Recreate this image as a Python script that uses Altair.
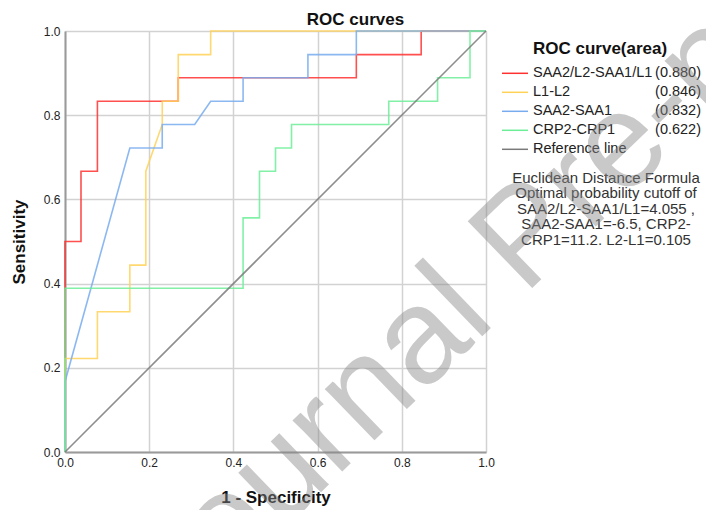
import altair as alt
import pandas as pd

FONT = "Liberation Sans"

# ---- data ----
series_names = ["SAA2/L2-SAA1/L1", "L1-L2", "SAA2-SAA1", "CRP2-CRP1", "Reference line"]
auc_labels = ["(0.880)", "(0.846)", "(0.832)", "(0.622)", ""]
colors = ["#ff3030", "#ffd257", "#78acef", "#6cee98", "#7a7a7a"]

red_fpr = [0.0, 0.0, 0.038, 0.038, 0.077, 0.077, 0.269, 0.269, 0.692, 0.692, 0.846, 0.846, 1.0]
red_tpr = [0.0, 0.5, 0.5, 0.667, 0.667, 0.833, 0.833, 0.889, 0.889, 0.944, 0.944, 1.0, 1.0]

yel_fpr = [0.0, 0.0, 0.077, 0.077, 0.154, 0.154, 0.192, 0.192, 0.231, 0.231, 0.269, 0.269, 0.346, 0.346, 1.0]
yel_tpr = [0.0, 0.222, 0.222, 0.333, 0.333, 0.444, 0.444, 0.667, 0.778, 0.833, 0.833, 0.944, 0.944, 1.0, 1.0]

blu_fpr = [0.0, 0.0, 0.154, 0.231, 0.231, 0.308, 0.346, 0.423, 0.423, 0.577, 0.577, 0.692, 0.692, 1.0]
blu_tpr = [0.0, 0.167, 0.722, 0.722, 0.778, 0.778, 0.833, 0.833, 0.889, 0.889, 0.944, 0.944, 1.0, 1.0]

grn_fpr = [0.0, 0.0, 0.423, 0.423, 0.462, 0.462, 0.5, 0.5, 0.538, 0.538, 0.769, 0.769, 0.885, 0.885, 0.962, 0.962, 1.0]
grn_tpr = [0.0, 0.389, 0.389, 0.556, 0.556, 0.667, 0.667, 0.722, 0.722, 0.778, 0.778, 0.833, 0.833, 0.889, 0.889, 1.0, 1.0]

ref_fpr = [0.0, 1.0]
ref_tpr = [0.0, 1.0]

axis_values = [0.0, 0.2, 0.4, 0.6, 0.8, 1.0]
note_lines = [
    "Euclidean Distance Formula",
    "Optimal probability cutoff of",
    "SAA2/L2-SAA1/L1=4.055 ,",
    "SAA2-SAA1=-6.5, CRP2-",
    "CRP1=11.2. L2-L1=0.105",
]
chart_title = "ROC curves"
legend_title = "ROC curve(area)"
watermark = "Journal Pre-proof"

# ---- build tables ----
rows = []
for name, xs, ys in zip(series_names,
                        [red_fpr, yel_fpr, blu_fpr, grn_fpr, ref_fpr],
                        [red_tpr, yel_tpr, blu_tpr, grn_tpr, ref_tpr]):
    for i, (a, b) in enumerate(zip(xs, ys)):
        rows.append({"series": name, "fpr": a, "tpr": b, "order": i})
df = pd.DataFrame(rows)

legend_df = pd.DataFrame({"series": series_names, "auc": auc_labels,
                          "row": list(range(len(series_names)))})

color_scale = alt.Scale(domain=series_names, range=colors)

lines = alt.Chart(df).mark_line(opacity=0.85).encode(
    x=alt.X("fpr:Q", scale=alt.Scale(domain=[0, 1], nice=False),
            axis=alt.Axis(values=axis_values, format=".1f", title="1 - Specificity",
                          labelFontSize=12, labelFont=FONT, labelColor="#222",
                          labelPadding=5, ticks=False, labelFlush=False,
                          domainColor="#9a9a9a", domainWidth=2,
                          gridColor="#d2d2d2", gridWidth=1.5,
                          titleFontSize=17, titleFont=FONT, titleFontWeight="bold",
                          titleColor="#111", titleX=210.5, titleY=45,
                          titleBaseline="middle")),
    y=alt.Y("tpr:Q", scale=alt.Scale(domain=[0, 1], nice=False),
            axis=alt.Axis(values=axis_values, format=".1f", title="Sensitivity",
                          labelFontSize=12, labelFont=FONT, labelColor="#222",
                          labelPadding=5, ticks=False,
                          domainColor="#9a9a9a", domainWidth=2,
                          gridColor="#d2d2d2", gridWidth=1.5,
                          titleFontSize=17, titleFont=FONT, titleFontWeight="bold",
                          titleColor="#111", titleX=-45.5, titleY=210.5,
                          titleAngle=270, titleBaseline="middle")),
    color=alt.Color("series:N", scale=color_scale, legend=None),
    strokeWidth=alt.StrokeWidth("series:N",
                                scale=alt.Scale(domain=series_names,
                                                range=[1.6, 1.6, 1.6, 1.6, 1.0]),
                                legend=None),
    order="order:Q",
)

legend_y = alt.Y("row:Q", scale=alt.Scale(domain=[0, 4], range=[42.3, 118.3]), axis=None)

leg_rules = alt.Chart(legend_df).mark_rule(strokeWidth=1.5).encode(
    x=alt.value(437), x2=alt.value(463), y=legend_y,
    color=alt.Color("series:N", scale=color_scale, legend=None),
)
leg_text = alt.Chart(legend_df).mark_text(
    align="left", baseline="middle", font=FONT, fontSize=14.5, color="#222"
).encode(x=alt.value(468), y=legend_y, text="series:N")
leg_auc = alt.Chart(legend_df).mark_text(
    align="right", baseline="middle", font=FONT, fontSize=14.5, color="#222"
).encode(x=alt.value(636), y=legend_y, text="auc:N")

leg_title = alt.Chart(pd.DataFrame({"t": [legend_title]})).mark_text(
    align="left", baseline="middle", font=FONT, fontSize=17, fontWeight="bold", color="#111"
).encode(x=alt.value(468), y=alt.value(18), text="t:N")

title_mark = alt.Chart(pd.DataFrame({"t": [chart_title]})).mark_text(
    align="center", baseline="alphabetic", font=FONT, fontSize=17, fontWeight="bold",
    color="#111"
).encode(x=alt.value(290.5), y=alt.value(-6), text="t:N")

note = alt.Chart(pd.DataFrame({"k": [0]})).mark_text(
    align="center", baseline="middle", font=FONT, fontSize=15, color="#333",
    lineHeight=15.5
).encode(x=alt.value(541), y=alt.value(146.5), text=alt.value(note_lines))

wm = alt.Chart(pd.DataFrame({"t": [watermark]})).mark_text(
    align="center", baseline="alphabetic", font=FONT, fontSize=135,
    color="#888888", opacity=0.45, angle=316
).encode(x=alt.value(489), y=alt.value(236), text="t:N")

chart = alt.layer(lines, leg_rules, leg_text, leg_auc, leg_title, title_mark, note, wm).resolve_scale(
    y="independent"
).properties(
    width=421, height=421,
    padding={"left": 65, "top": 31, "right": 220, "bottom": 58},
    autosize=alt.AutoSizeParams(type="none"),
).configure_view(stroke="transparent")

chart.save("out.html", embed_options={"renderer": "svg", "actions": False})
